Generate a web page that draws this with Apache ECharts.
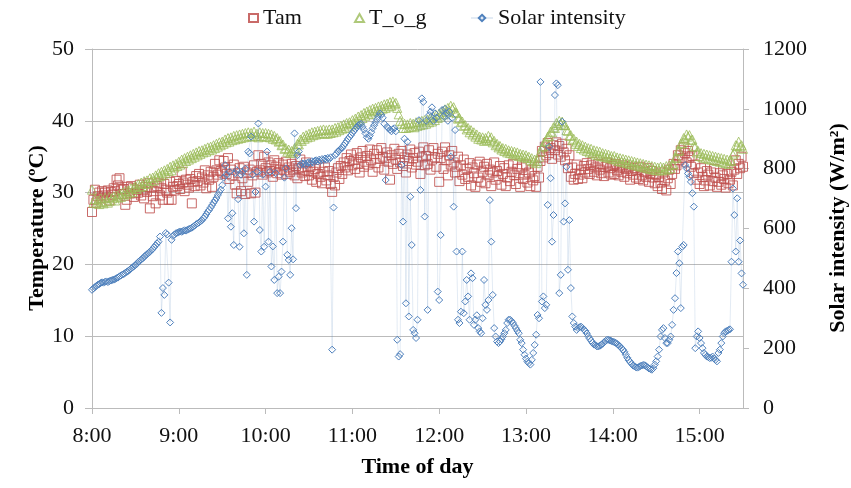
<!DOCTYPE html>
<html>
<head>
<meta charset="utf-8">
<script src="https://cdn.jsdelivr.net/npm/echarts@6/dist/echarts.min.js"></script>
<style>
  html, body { margin: 0; padding: 0; background: #fff; }
  #chart { width: 851px; height: 488px; }
</style>
</head>
<body>
<div id="chart"></div>
<script>
// One reading per minute from 8:00 (index 0) to 15:30 (index 450)
const tickLabels = ['8:00', '9:00', '10:00', '11:00', '12:00', '13:00', '14:00', '15:00'];

// Ambient air temperature (ºC)
const tamValues = [
  27.3, 29.0, 30.4, 28.6, 29.5, 30.0, 29.2, 30.2, 29.6, 30.0, 29.3, 30.3, 28.9, 30.1, 29.7,
  30.6, 30.2, 31.8, 31.0, 32.0, 30.4, 29.8, 30.5, 28.3, 29.0, 30.8, 29.9, 30.9, 30.6, 29.4,
  29.9, 30.4, 30.0, 31.1, 29.6, 30.3, 29.2, 30.8, 30.1, 31.3, 27.8, 30.7, 29.5, 30.2, 28.5,
  30.9, 31.3, 29.6, 30.6, 29.0, 31.2, 30.4, 30.0, 29.0, 31.5, 29.0, 30.8, 30.3, 31.6, 30.9,
  31.2, 30.5, 32.9, 31.4, 30.2, 31.8, 31.1, 30.7, 31.9, 28.5, 31.5, 30.9, 32.3, 31.6, 32.6,
  31.0, 32.1, 31.4, 33.1, 30.6, 32.4, 31.8, 32.9, 30.8, 32.2, 34.0, 33.1, 32.5, 34.5, 33.0,
  32.8, 34.4, 33.5, 32.6, 34.8, 31.9, 33.2, 32.4, 33.9, 31.1, 29.9, 32.7, 33.4, 30.2, 32.0,
  33.6, 29.8, 32.8, 31.5, 33.2, 29.9, 32.4, 33.8, 30.0, 32.9, 35.2, 33.1, 34.0, 32.5, 35.0,
  33.4, 32.8, 34.2, 33.0, 33.8, 32.2, 34.5, 33.6, 32.7, 34.1, 33.2, 32.5, 33.9, 33.1, 34.3,
  32.6, 33.5, 32.9, 34.0, 33.2, 32.4, 33.7, 32.0, 33.4, 34.6, 32.8, 33.1, 32.3, 34.2, 33.0,
  32.4, 33.6, 31.8, 32.9, 33.3, 31.5, 32.6, 33.8, 32.2, 31.3, 32.9, 33.5, 31.7, 32.4, 33.0,
  31.2, 30.1, 32.2, 31.0, 32.8, 33.4, 31.9, 33.7, 32.6, 34.2, 33.5, 34.8, 33.1, 34.4, 35.3,
  33.8, 34.6, 33.3, 35.5, 34.0, 32.8, 34.9, 35.8, 33.6, 34.3, 35.1, 33.9, 36.0, 34.5, 32.9,
  35.4, 34.1, 35.9, 33.5, 34.7, 36.2, 35.0, 33.2, 34.8, 35.6, 34.3, 31.8, 35.2, 34.0, 36.1,
  34.6, 33.3, 35.4, 34.2, 35.8, 33.7, 34.9, 32.8, 35.3, 34.4, 36.0, 33.5, 34.8, 35.5, 33.9,
  34.3, 35.7, 32.6, 34.9, 36.3, 33.8, 35.1, 34.0, 35.9, 33.2, 34.6, 36.2, 34.9, 33.6, 35.4,
  31.5, 34.8, 35.7, 33.3, 36.3, 34.5, 32.4, 35.2, 33.9, 35.8, 34.2, 32.8, 33.6, 35.0, 31.6,
  33.8, 32.5, 34.6, 31.9, 33.3, 32.2, 34.1, 31.0, 33.5, 32.7, 30.8, 33.9, 32.1, 34.3, 31.5,
  32.9, 33.6, 31.3, 34.0, 32.4, 33.2, 30.9, 32.8, 34.2, 31.8, 33.0, 32.3, 33.7, 31.1, 32.6,
  33.4, 30.9, 32.1, 33.8, 31.6, 32.9, 34.0, 32.4, 31.2, 33.3, 32.7, 30.8, 33.5, 31.9, 32.5,
  33.9, 31.4, 32.8, 30.9, 33.2, 31.7, 32.3, 30.8, 33.6, 32.1, 34.4, 35.8, 34.9, 36.4, 35.2,
  36.9, 35.5, 36.2, 34.7, 36.6, 35.9, 37.0, 35.3, 36.5, 35.0, 36.8, 35.6, 34.5, 36.1, 33.4,
  35.2, 32.2, 33.5, 31.8, 32.6, 33.9, 31.9, 32.5, 33.2, 32.0, 33.7, 32.8, 34.1, 33.3, 32.6,
  33.8, 34.3, 32.9, 33.5, 32.4, 34.0, 33.2, 32.7, 33.9, 32.3, 33.6, 34.2, 32.8, 33.4, 32.5,
  33.7, 32.6, 34.0, 33.1, 32.4, 33.5, 32.9, 33.8, 32.2, 33.3, 32.7, 33.6, 31.8, 33.0, 32.5,
  33.4, 32.1, 33.1, 31.9, 33.6, 32.4, 31.7, 32.9, 32.2, 33.4, 31.5, 32.6, 33.0, 32.1, 31.3,
  32.5, 30.9, 32.2, 31.4, 30.5, 32.8, 31.7, 30.3, 32.0, 33.2, 31.2, 32.6, 34.0, 33.3, 33.8,
  35.2, 34.5, 35.9, 34.8, 36.3, 35.5, 34.2, 35.8, 34.9, 33.6, 35.1, 32.7, 33.9, 31.8, 32.8,
  31.2, 33.4, 32.2, 30.9, 31.7, 33.0, 32.5, 31.0, 32.8, 31.6, 33.3, 32.1, 30.8, 31.5, 32.7,
  31.1, 32.4, 31.9, 30.7, 32.6, 31.3, 31.8, 32.9, 31.0, 33.2, 34.5, 32.6, 34.0, 33.4, 35.0,
  33.6
];

// Globe temperature (ºC)
const togValues = [
  30.4, 28.6, 29.1, 28.5, 28.9, 28.4, 29.2, 28.7, 28.5, 29.3, 28.8, 28.6, 29.4, 28.9, 29.2,
  29.5, 28.9, 29.6, 29.3, 29.8, 29.4, 30.0, 29.6, 30.2, 29.8, 30.3, 30.0, 30.6, 30.1, 30.7,
  30.9, 30.5, 31.2, 30.8, 31.4, 30.9, 31.6, 31.2, 31.7, 31.3, 32.0, 31.6, 32.1, 31.7, 32.4,
  32.1, 32.7, 32.3, 32.9, 32.5, 33.1, 32.7, 33.3, 33.0, 33.6, 33.1, 33.8, 33.5, 34.0, 33.7,
  34.3, 33.9, 34.6, 34.1, 34.8, 34.4, 35.0, 34.6, 35.2, 34.8, 35.4, 35.0, 35.6, 35.2, 35.8,
  35.4, 35.9, 35.6, 36.1, 35.7, 36.3, 35.9, 36.4, 36.0, 36.6, 36.2, 36.8, 36.4, 37.0, 36.6,
  37.1, 36.8, 37.4, 37.0, 37.6, 37.1, 37.7, 37.3, 37.9, 37.4, 38.0, 37.5, 38.1, 37.6, 38.2,
  37.7, 38.3, 37.8, 38.4, 37.9, 38.3, 37.8, 38.5, 37.9, 38.2, 37.7, 38.4, 37.9, 38.3, 37.8,
  38.3, 37.8, 38.2, 37.7, 38.1, 37.5, 37.9, 37.4, 37.6, 37.1, 37.2, 36.6, 36.7, 36.1, 36.2,
  35.7, 36.0, 35.5, 35.8, 35.6, 36.2, 36.1, 36.8, 36.7, 37.4, 37.2, 37.8, 37.5, 38.0, 37.7,
  38.2, 37.8, 38.4, 38.0, 38.5, 38.1, 38.6, 38.2, 38.7, 38.3, 38.8, 38.2, 38.7, 38.2, 38.8,
  38.3, 38.8, 38.4, 39.0, 38.5, 39.1, 38.7, 39.3, 38.9, 39.5, 39.0, 39.7, 39.2, 39.8, 39.5,
  40.1, 39.6, 40.3, 39.9, 40.6, 40.1, 40.8, 40.4, 41.1, 40.7, 41.3, 40.9, 41.5, 41.0, 41.7,
  41.3, 41.8, 41.4, 42.0, 41.5, 42.1, 41.7, 42.3, 41.8, 42.4, 42.0, 42.6, 42.1, 42.7, 42.3,
  42.5, 41.8, 40.9, 40.0, 39.6, 39.0, 39.6, 39.0, 39.5, 39.1, 39.7, 39.2, 39.6, 39.1, 39.8,
  39.3, 39.8, 39.4, 40.0, 39.5, 40.1, 39.6, 40.2, 39.8, 40.4, 39.9, 40.6, 40.1, 40.8, 40.4,
  41.0, 40.6, 41.3, 40.9, 41.6, 41.2, 41.8, 41.4, 42.1, 41.7, 41.9, 41.2, 41.1, 40.3, 40.4,
  39.8, 39.9, 39.3, 39.4, 38.8, 39.0, 38.4, 38.7, 38.1, 38.4, 37.8, 38.1, 37.5, 37.8, 37.4,
  37.7, 37.2, 37.6, 37.3, 37.9, 37.4, 37.7, 37.0, 37.2, 36.6, 36.8, 36.3, 36.5, 36.0, 36.2,
  35.8, 36.1, 35.6, 35.9, 35.5, 35.8, 35.4, 35.7, 35.2, 35.6, 35.1, 35.4, 35.0, 35.3, 34.9,
  35.2, 34.8, 35.0, 34.5, 34.8, 34.3, 34.6, 34.1, 34.4, 35.0, 35.7, 36.3, 36.5, 37.1, 37.2,
  37.8, 37.9, 38.5, 38.4, 39.1, 39.0, 39.7, 39.4, 40.0, 39.6, 39.9, 39.4, 39.4, 38.7, 38.6,
  37.9, 38.0, 37.3, 37.5, 36.8, 37.1, 36.5, 36.8, 36.2, 36.6, 36.0, 36.4, 35.8, 36.2, 35.6,
  36.1, 35.5, 35.9, 35.3, 35.8, 35.2, 35.7, 35.1, 35.5, 35.0, 35.4, 34.9, 35.3, 34.8, 35.1,
  34.7, 35.1, 34.6, 34.9, 34.4, 34.8, 34.3, 34.7, 34.2, 34.6, 34.1, 34.5, 34.0, 34.4, 33.9,
  34.3, 33.8, 34.2, 33.7, 34.1, 33.6, 34.0, 33.5, 33.9, 33.4, 33.8, 33.3, 33.7, 33.2, 33.6,
  33.1, 33.5, 33.1, 33.6, 33.2, 33.5, 33.1, 33.7, 33.3, 33.8, 33.4, 34.0, 33.9, 34.8, 34.9,
  35.8, 35.9, 36.8, 36.9, 37.6, 37.4, 38.1, 37.8, 38.0, 37.3, 37.4, 36.5, 36.4, 35.6, 35.8,
  35.1, 35.5, 34.9, 35.4, 34.8, 35.3, 34.7, 35.2, 34.6, 35.1, 34.5, 35.0, 34.4, 34.9, 34.3,
  34.8, 34.2, 34.7, 34.1, 34.6, 34.0, 34.5, 34.4, 35.3, 35.6, 36.6, 36.5, 37.1, 36.4, 36.6,
  36.1
];

// Solar intensity (W/m²)
const solarValues = [
  395, 400, 404, 408, 412, 414, 418, 420, 419, 422, 423, 421, 424, 426, 428,
  429, 431, 434, 436, 440, 443, 446, 448, 452, 455, 458, 462, 466, 470, 474,
  478, 482, 488, 492, 496, 500, 505, 510, 514, 518, 522, 527, 532, 538, 544,
  550, 556, 573, 318, 401, 378, 585, 580, 419, 286, 562, 575, 580, 584, 586,
  588, 590, 589, 592, 594, 593, 596, 598, 600, 603, 606, 610, 614, 617, 620,
  624, 628, 634, 640, 648, 656, 662, 670, 678, 686, 694, 702, 712, 722, 730,
  745, 770, 812, 780, 634, 790, 606, 651, 545, 785, 795, 698, 539, 780, 790,
  584, 800, 445, 857, 851, 907, 780, 623, 722, 790, 951, 595, 523, 780, 539,
  740, 857, 556, 790, 473, 540, 428, 785, 384, 439, 384, 456, 556, 770, 801,
  512, 495, 445, 601, 497, 918, 668, 845, 857, 812, 818, 815, 818, 812, 820,
  822, 818, 825, 820, 826, 828, 824, 830, 826, 832, 828, 834, 830, 836, 832,
  838, 195, 670, 845, 850, 858, 862, 866, 870, 878, 885, 892, 900, 906, 912,
  920, 926, 932, 938, 944, 948, 950, 940, 930, 918, 905, 900, 910, 922, 935,
  945, 955, 965, 975, 985, 980, 970, 950, 762, 940, 935, 930, 925, 932, 935,
  925, 228, 172, 180, 812, 623, 900, 350, 890, 306, 706, 545, 261, 250, 234,
  295, 962, 729, 1035, 1023, 640, 960, 328, 979, 990, 1005, 960, 985, 970, 389,
  361, 578, 996, 975, 1000, 985, 960, 990, 840, 970, 673, 929, 523, 295, 284,
  322, 523, 317, 356, 428, 373, 295, 450, 434, 278, 295, 310, 267, 256, 250,
  300, 428, 345, 328, 361, 695, 556, 378, 267, 239, 222, 217, 222, 230, 239,
  250, 261, 284, 295, 295, 290, 284, 275, 267, 258, 250, 228, 217, 195, 178,
  165, 155, 150, 145, 161, 184, 211, 245, 311, 300, 1090, 356, 373, 334, 345,
  679, 873, 768, 556, 645, 1046, 1085, 1079, 384, 445, 957, 623, 684, 806, 462,
  628, 401, 306, 284, 272, 261, 267, 270, 272, 268, 262, 258, 250, 240, 232,
  225, 218, 212, 210, 206, 206, 208, 211, 215, 220, 224, 228, 228, 226, 224,
  222, 220, 218, 214, 210, 206, 200, 195, 188, 178, 168, 160, 154, 148, 142,
  139, 136, 135, 137, 140, 142, 144, 143, 140, 136, 132, 130, 128, 133, 145,
  156, 172, 195, 239, 261, 267, 234, 217, 217, 228, 239, 278, 328, 367, 451,
  523, 484, 334, 539, 545, 812, 801, 784, 773, 756, 718, 673, 200, 239, 256,
  234, 217, 200, 184, 178, 172, 170, 167, 168, 172, 165, 161, 156, 184, 195,
  217, 239, 250, 256, 258, 261, 263, 489, 734, 645, 523, 701, 489, 560, 450,
  412
];

// pair each reading with its minute offset from 8:00
const toPoints = arr => arr.map((v, i) => [i, v]);

const FONT = 'Liberation Serif, Times New Roman, serif';
const RED = '#C0504D';
const GREEN = '#9BBB59';
const BLUE = '#4F81BD';
const GRID_GREY = '#BBBBBB';

const chart = echarts.init(document.getElementById('chart'), null, { renderer: 'canvas' });

const legendText = { fontFamily: FONT, fontSize: 22, color: '#111' };
const legendBase = { top: 2, itemHeight: 8, textStyle: legendText };
const titleText = { fontFamily: FONT, fontSize: 22, fontWeight: 'bold', color: '#000' };

// vertical axis titles, drawn as rotated text beside the plot
const sideTitle = (text, x) => ({
  type: 'text',
  x: x,
  y: 228,
  rotation: Math.PI / 2,
  style: {
    text: text,
    fontFamily: FONT,
    fontSize: 22,
    fontWeight: 'bold',
    fill: '#000',
    textAlign: 'center',
    textVerticalAlign: 'middle'
  }
});

chart.setOption({
  animation: false,
  backgroundColor: '#fff',
  grid: { left: 92, right: 108, top: 49, bottom: 80, containLabel: false },
  legend: [
    Object.assign({ data: ['Tam'], left: 243, itemWidth: 9 }, legendBase),
    Object.assign({ data: ['T_o_g'], left: 349, itemWidth: 9 }, legendBase),
    Object.assign({ data: ['Solar intensity'], left: 465, itemWidth: 22 }, legendBase)
  ],
  graphic: [
    sideTitle('Temperature (ºC)', 37),
    sideTitle('Solar intensity (W/m²)', 838)
  ],
  xAxis: {
    type: 'value',
    min: 0,
    max: 450,
    interval: 60,
    name: 'Time of day',
    nameLocation: 'middle',
    nameGap: 48,
    nameTextStyle: titleText,
    axisLine: { show: true, lineStyle: { color: GRID_GREY, width: 1 } },
    axisTick: { show: true, inside: false, length: 6, lineStyle: { color: GRID_GREY } },
    axisLabel: {
      fontFamily: FONT, fontSize: 22, color: '#111', margin: 17,
      showMaxLabel: false,
      formatter: v => tickLabels[Math.round(v / 60)] || ''
    },
    splitLine: { show: false }
  },
  yAxis: [
    {
      type: 'value',
      min: 0,
      max: 50,
      interval: 10,
      axisLine: { show: true, lineStyle: { color: GRID_GREY, width: 1 } },
      axisTick: { show: true, inside: false, length: 7, lineStyle: { color: GRID_GREY } },
      axisLabel: { fontFamily: FONT, fontSize: 22, color: '#111', margin: 18 },
      splitLine: { show: true, lineStyle: { color: GRID_GREY, width: 1 } }
    },
    {
      type: 'value',
      min: 0,
      max: 1200,
      interval: 200,
      position: 'right',
      axisLine: { show: true, lineStyle: { color: GRID_GREY, width: 1 } },
      axisTick: { show: true, inside: false, length: 6, lineStyle: { color: GRID_GREY } },
      axisLabel: { fontFamily: FONT, fontSize: 22, color: '#111', margin: 20, formatter: v => String(v) },
      splitLine: { show: false }
    }
  ],
  series: [
    {
      name: 'Tam',
      type: 'scatter',
      yAxisIndex: 0,
      symbol: 'rect',
      symbolSize: 9,
      itemStyle: { color: 'rgba(0,0,0,0)', borderColor: RED, borderWidth: 1, opacity: 0.85 },
      data: toPoints(tamValues)
    },
    {
      name: 'T_o_g',
      type: 'scatter',
      yAxisIndex: 0,
      symbol: 'triangle',
      symbolSize: 9,
      itemStyle: { color: 'rgba(0,0,0,0)', borderColor: GREEN, borderWidth: 1 },
      data: toPoints(togValues)
    },
    {
      name: 'Solar intensity',
      type: 'line',
      yAxisIndex: 1,
      symbol: 'diamond',
      symbolSize: 7,
      showSymbol: true,
      showAllSymbol: true,
      lineStyle: { color: 'rgba(79,129,189,0.16)', width: 1 },
      itemStyle: { color: 'rgba(0,0,0,0)', borderColor: BLUE, borderWidth: 1 },
      data: toPoints(solarValues)
    }
  ]
});
</script>
</body>
</html>
